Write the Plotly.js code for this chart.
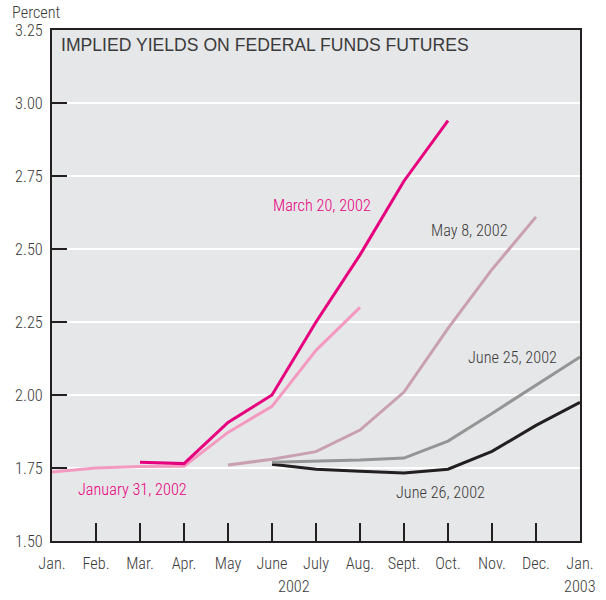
<!DOCTYPE html>
<html><head><meta charset="utf-8">
<script src="https://cdn.plot.ly/plotly-3.0.1.min.js"></script>
<style>body{margin:0;background:#fff}#c{width:606px;height:600px}</style>
</head><body><div id="c"></div>
<script>
const monthLabels = ["Jan.","Feb.","Mar.","Apr.","May","June","July","Aug.","Sept.","Oct.","Nov.","Dec.","Jan."];
const monthIdx = [0,1,2,3,4,5,6,7,8,9,10,11,12];
const jan31 = [1.736,1.75,1.755,1.756,1.872,1.961,2.153,2.30,null,null,null,null,null];
const mar20 = [null,null,1.77,1.765,1.906,2.00,2.25,2.48,2.733,2.94,null,null,null];
const may8  = [null,null,null,null,1.76,1.78,1.806,1.88,2.01,2.228,2.43,2.61,null];
const jun25 = [null,null,null,null,null,1.77,1.773,1.777,1.784,1.842,1.937,2.033,2.13];
const jun26 = [null,null,null,null,null,1.763,1.746,1.739,1.733,1.746,1.807,1.896,1.975];
const yTicks = [1.5,1.75,2.0,2.25,2.5,2.75,3.0,3.25];

const FONT = "'Roboto Condensed', 'Liberation Sans Narrow', Arial, sans-serif";
const TXT = '#3a3a3a';
const FS = 16.3;
const W = 300;
function tr(y,color,w){return {x:monthIdx,y:y,type:'scatter',mode:'lines',line:{color:color,width:w},connectgaps:false,hoverinfo:'skip'};}
const data = [
  tr(jun26,'#231f20',3),
  tr(jun25,'#959595',3),
  tr(may8,'#c9a0b2',3),
  tr(jan31,'#f49ac1',3),
  tr(mar20,'#e6007e',3)
];
const f = (c)=>({family:FONT,size:FS,color:c,weight:W});
const layout = {
  width:606,height:600,
  margin:{l:52,r:26,t:30,b:59},
  paper_bgcolor:'#ffffff',plot_bgcolor:'#e6e7e8',
  showlegend:false,
  font:f(TXT),
  xaxis:{range:[0,12],tickvals:monthIdx,ticktext:monthLabels,showgrid:false,zeroline:false,
    showline:true,mirror:true,linecolor:'#231f20',linewidth:2,
    ticks:'inside',ticklen:18,tickwidth:2,tickcolor:'#231f20',ticklabelstandoff:6,
    tickfont:f(TXT)},
  yaxis:{range:[1.5,3.25],tickvals:yTicks,ticktext:yTicks.map(v=>v.toFixed(2)),
    showgrid:true,gridcolor:'#ffffff',gridwidth:2,zeroline:false,
    showline:true,mirror:true,linecolor:'#231f20',linewidth:2,
    ticks:'inside',ticklen:15,tickwidth:2,tickcolor:'#231f20',ticklabelstandoff:4,
    tickfont:f(TXT)},
  annotations:[
    {xref:'paper',yref:'paper',x:0,y:1,xshift:7,yshift:-3,xanchor:'left',yanchor:'top',showarrow:false,
     text:'IMPLIED YIELDS ON FEDERAL FUNDS FUTURES',font:{family:"'Liberation Sans', Arial, sans-serif",size:17.6,color:TXT}},
    {xref:'paper',yref:'paper',x:0,y:1,xshift:-42,yshift:6,xanchor:'left',yanchor:'bottom',showarrow:false,
     text:'Percent',font:f(TXT)},
    {xref:'x',yref:'y',x:5.5,y:1.5,yshift:-34,xanchor:'center',yanchor:'top',showarrow:false,text:'2002',font:f(TXT)},
    {xref:'x',yref:'y',x:12,y:1.5,yshift:-34,xanchor:'center',yanchor:'top',showarrow:false,text:'2003',font:f(TXT)},
    {xref:'x',yref:'y',x:7.3,y:2.65,xanchor:'right',yanchor:'middle',showarrow:false,text:'March 20, 2002',font:f('#e6007e')},
    {xref:'x',yref:'y',x:10.4,y:2.565,xanchor:'right',yanchor:'middle',showarrow:false,text:'May 8, 2002',font:f(TXT)},
    {xref:'x',yref:'y',x:11.52,y:2.13,xanchor:'right',yanchor:'middle',showarrow:false,text:'June 25, 2002',font:f(TXT)},
    {xref:'x',yref:'y',x:8.84,y:1.665,xanchor:'center',yanchor:'middle',showarrow:false,text:'June 26, 2002',font:f(TXT)},
    {xref:'x',yref:'y',x:1.84,y:1.675,xanchor:'center',yanchor:'middle',showarrow:false,text:'January 31, 2002',font:f('#e6007e')}
  ]
};
Plotly.newPlot('c',data,layout,{displayModeBar:false,staticPlot:true});
</script></body></html>
